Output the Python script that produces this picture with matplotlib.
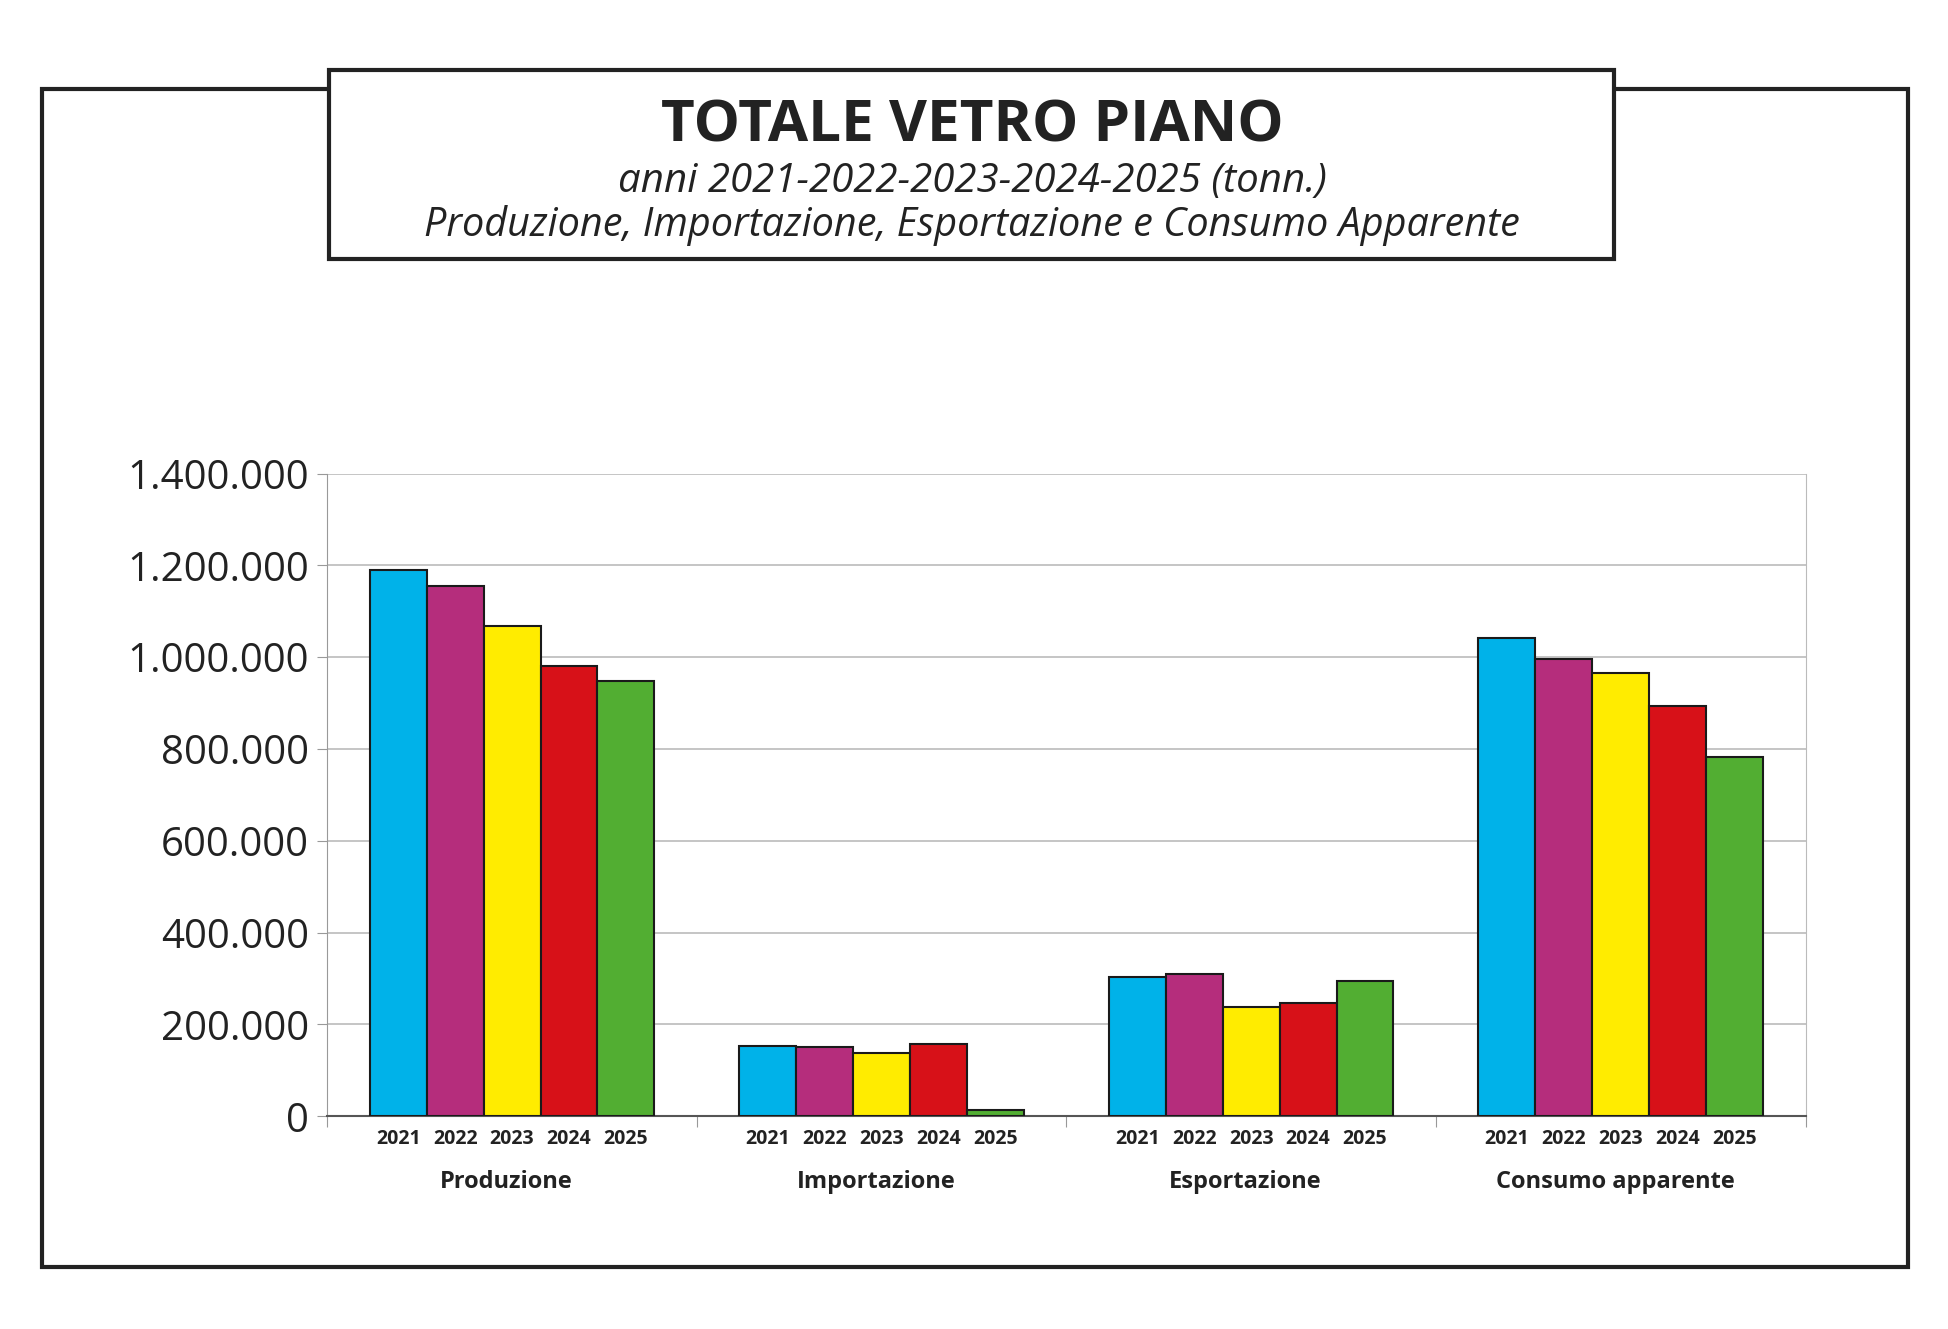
import matplotlib
matplotlib.use('Agg')
import matplotlib.pyplot as plt
from matplotlib.patches import Rectangle
from matplotlib.ticker import FuncFormatter

plt.rcParams['font.family'] = ['Open Sans', 'DejaVu Sans']

categories = ['Produzione', 'Importazione', 'Esportazione', 'Consumo apparente']
years = ['2021', '2022', '2023', '2024', '2025']
colors = ['#00b2e9', '#b52d7c', '#ffec00', '#d71118', '#52ae32']

# tonnellate per anno, una lista per categoria
produzione = [1190000, 1155000, 1067000, 981000, 949000]
importazione = [154000, 150500, 137500, 157700, 13700]
esportazione = [303000, 309000, 238800, 246000, 294500]
consumo = [1041000, 996300, 965800, 893900, 782800]
series = [produzione, importazione, esportazione, consumo]

text_col = '#222222'
bar_w = 0.154

fig = plt.figure(figsize=(19.49, 13.29), dpi=100)

# cornice esterna e riquadro del titolo
fig.patches.append(Rectangle((42 / 1949, 1 - 1266.5 / 1329), (1908 - 42) / 1949, (1266.5 - 88.5) / 1329,
                             transform=fig.transFigure, fill=False, ec=text_col, lw=3, zorder=1))
fig.patches.append(Rectangle((329.5 / 1949, 1 - 258.5 / 1329), (1614.5 - 329.5) / 1949, (258.5 - 69.5) / 1329,
                             transform=fig.transFigure, fc='white', ec=text_col, lw=3, zorder=2))

fig.text(972 / 1949, 1 - 127 / 1329, 'TOTALE VETRO PIANO', ha='center', va='center',
         fontsize=42, fontweight='bold', color=text_col, zorder=3)
fig.text(972 / 1949, 1 - 182 / 1329, 'anni 2021-2022-2023-2024-2025 (tonn.)', ha='center', va='center',
         fontsize=29, style='italic', color=text_col, zorder=3)
fig.text(972 / 1949, 1 - 225 / 1329, 'Produzione, Importazione, Esportazione e Consumo Apparente',
         ha='center', va='center', fontsize=28.5, style='italic', color=text_col, zorder=3)

ax = fig.add_axes([327.3 / 1949, 212.7 / 1329, (1805.5 - 327.3) / 1949, (1116.3 - 473.6) / 1329])

year_pos = []
year_lab = []
for i, vals in enumerate(series):
    for j, v in enumerate(vals):
        x = i + 0.5 + (j - 2) * bar_w
        ax.bar(x, v, width=bar_w, color=colors[j], edgecolor='#1a1a1a', linewidth=1.5, zorder=3)
        year_pos.append(x)
        year_lab.append(years[j])
    ax.text(i + 0.485, -0.102, categories[i], transform=ax.get_xaxis_transform(), ha='center', va='center',
            fontsize=17, fontweight='bold', color=text_col)

ax.set_xlim(0, 4)
ax.set_ylim(0, 1400000)
ax.set_yticks(range(0, 1400001, 200000))
ax.yaxis.set_major_formatter(FuncFormatter(lambda v, p: f'{int(v):,}'.replace(',', '.')))
ax.tick_params(axis='y', length=7, color='#999999', labelsize=29, labelcolor=text_col, pad=6)

ax.set_xticks([0, 1, 2, 3, 4])
ax.set_xticklabels([])
ax.set_xticks(year_pos, minor=True)
ax.set_xticklabels(year_lab, minor=True)
ax.tick_params(axis='x', which='major', length=8, color='#999999')
ax.tick_params(axis='x', which='minor', length=0, labelsize=14, labelcolor=text_col, pad=9)
for lab in ax.get_xticklabels(minor=True):
    lab.set_fontweight('bold')

ax.grid(axis='y', color='#bbbbbb', linewidth=1.2, zorder=0)
ax.set_axisbelow(True)
ax.spines['top'].set_visible(False)
ax.spines['left'].set_color('#999999')
ax.spines['right'].set_color('#bbbbbb')
ax.spines['bottom'].set_color('#555555')
ax.spines['bottom'].set_linewidth(1.5)

fig.savefig('out.png', dpi=100, facecolor='white')
